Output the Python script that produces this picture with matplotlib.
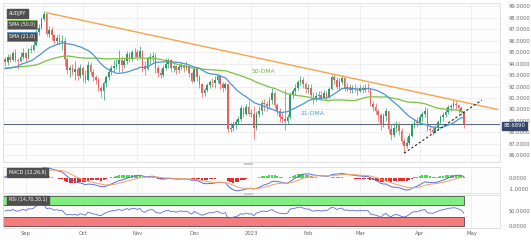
import matplotlib
matplotlib.use("Agg")
import matplotlib.pyplot as plt
import numpy as np
import pandas as pd
from matplotlib.patches import Rectangle

# AUD/JPY daily candles, weekdays 2022-08-22 .. 2023-04-26
start_date = "2022-08-22"
end_date = "2023-04-26"
axis_end = "2023-05-31"

# closes before the window (only used to warm up the SMAs / MACD / RSI)
prior_closes = [95.0, 93.7, 92.8, 93.2, 94.0, 93.3, 93.6, 93.9, 94.0, 93.8, 94.2, 94.5, 93.6, 93.2, 92.6,
                92.4, 92.7, 92.8, 92.9, 93.5, 93.4, 93.2, 93.0, 93.4, 94.1, 95.0, 95.5, 95.2, 94.2, 94.0,
                93.6, 93.9, 93.3,
                92.7, 92.0, 92.9, 93.0, 93.3, 93.6, 92.9, 93.1, 94.0, 94.6, 93.8, 93.5, 93.3, 94.2, 94.5, 94.4]

first_open = 94.4
closes = [94.1, 94.6, 94.3, 94.9, 94.3, 94.2, 94.6, 94.9,
          94.5, 95.3, 95.2, 95.6, 96.8, 97.1, 97.9, 98.3, 96.6, 96.9, 96.5, 96.0, 96.2, 95.9, 96.0, 94.4,
          93.4, 93.6, 93.3, 93.5, 92.9, 93.6,
          93.0, 92.6, 93.9, 93.3, 92.8, 92.6, 91.9, 91.6, 92.3, 92.8, 93.3, 93.6, 93.8, 94.0, 94.3, 93.9,
          94.2, 94.8, 94.4, 95.0, 95.0,
          94.6, 95.1, 93.8, 93.5, 94.4, 94.6, 94.7, 93.6, 93.2, 93.0, 93.6, 94.0, 94.3, 93.6, 93.8, 93.4,
          93.7, 93.9, 93.6, 93.8, 93.2, 92.5,
          93.5, 92.8, 92.2, 91.4, 91.7, 92.1, 92.4, 92.3, 92.6, 92.9, 92.2, 91.9, 92.2, 88.3, 88.4, 88.6,
          88.9, 89.2, 90.1, 89.6, 90.2, 89.6,
          89.6, 88.4, 89.6, 89.9, 90.6, 90.5, 90.3, 90.8, 91.4, 90.4, 89.9, 89.3, 89.2, 89.0, 89.3, 91.3,
          91.6, 91.9, 92.4, 92.6, 92.2, 91.8,
          91.9, 91.3, 90.9, 91.2, 91.3, 91.0, 91.4, 91.1, 91.8, 92.8, 92.6, 92.0, 92.4, 92.7, 91.8, 92.0,
          91.7, 91.9, 91.8, 91.6,
          91.9, 91.7, 91.9, 91.8, 90.5, 90.2, 89.9, 89.5, 88.6, 89.4, 89.9, 88.3, 87.8, 88.4, 88.6, 88.1,
          87.2, 86.8, 87.1, 87.7, 88.6, 88.9, 88.8,
          89.3, 89.6, 89.9, 88.3, 88.2, 88.0, 88.4, 88.9, 89.3, 89.5, 89.8, 90.2, 90.3, 90.5, 90.4, 90.1,
          89.8, 88.689]
highs = [94.6, 94.8, 94.8, 95.1, 95.3, 94.5, 95.0, 95.4,
         95.0, 95.4, 95.6, 96.2, 97.0, 97.5, 98.1, 98.6, 98.4, 97.3, 97.2, 96.6, 96.5, 96.6, 96.5, 96.3,
         94.6, 93.9, 94.0, 94.2, 93.8, 94.0,
         93.8, 93.4, 94.2, 94.1, 93.5, 93.0, 92.8, 92.1, 92.5, 93.0, 93.5, 93.9, 94.3, 94.4, 95.2, 94.7,
         94.5, 95.1, 95.0, 95.2, 95.4,
         95.3, 95.5, 95.2, 94.2, 94.6, 94.9, 95.0, 94.9, 93.9, 93.5, 93.9, 94.5, 94.5, 94.4, 94.0, 93.9,
         94.0, 94.1, 94.0, 94.2, 94.0, 93.3,
         93.7, 93.6, 93.0, 92.3, 91.9, 92.3, 92.6, 92.7, 92.9, 93.1, 93.0, 92.4, 92.4, 92.3, 88.8, 89.0,
         89.2, 89.4, 90.4, 90.2, 90.5, 90.8,
         90.0, 90.3, 89.9, 90.3, 90.8, 90.9, 90.7, 91.1, 91.9, 91.6, 90.6, 90.1, 89.8, 91.8, 89.6, 91.5,
         91.8, 92.2, 92.6, 92.9, 92.8, 92.4,
         92.2, 92.2, 91.5, 91.5, 91.6, 91.6, 91.7, 91.6, 92.0, 93.0, 93.0, 92.8, 92.7, 92.9, 92.8, 92.3,
         92.2, 92.1, 92.2, 92.0,
         92.1, 92.1, 92.2, 92.3, 91.9, 90.7, 90.6, 90.0, 89.7, 89.7, 90.1, 89.9, 88.7, 88.8, 89.0, 88.9,
         88.4, 87.5, 87.6, 87.9, 88.8, 89.2, 89.3,
         89.6, 89.9, 90.2, 90.1, 88.6, 88.5, 88.6, 89.1, 89.5, 89.8, 90.1, 90.4, 90.5, 90.8, 90.7, 90.5,
         90.3, 89.9]
lows = [93.8, 93.9, 94.1, 94.2, 94.1, 93.5, 94.1, 94.4,
        94.1, 94.4, 94.9, 95.1, 95.5, 96.5, 97.0, 97.7, 96.4, 96.3, 96.1, 95.7, 95.7, 95.6, 95.2, 93.8,
        93.1, 92.8, 93.0, 92.6, 92.6, 92.7,
        92.4, 92.3, 92.5, 93.0, 92.5, 92.2, 91.6, 91.1, 90.8, 92.0, 92.6, 93.0, 93.3, 93.5, 93.3, 93.3,
        93.6, 94.0, 94.1, 94.2, 94.6,
        94.3, 94.4, 93.3, 93.0, 93.4, 94.0, 94.1, 93.2, 92.8, 92.7, 92.8, 93.4, 93.6, 93.3, 93.3, 93.1,
        93.2, 93.4, 93.3, 93.4, 92.8, 92.3,
        92.4, 92.5, 91.9, 91.1, 91.2, 91.5, 91.9, 92.0, 91.9, 92.3, 91.8, 91.5, 91.8, 88.0, 88.0, 88.1,
        88.3, 88.7, 89.0, 89.3, 89.5, 89.4,
        89.3, 87.4, 88.2, 89.3, 89.5, 89.9, 89.9, 90.1, 90.5, 90.1, 89.5, 88.9, 88.8, 88.2, 88.7, 89.2,
        91.0, 91.3, 91.7, 92.1, 91.9, 91.4,
        91.4, 91.0, 90.5, 90.7, 90.9, 90.8, 90.9, 90.8, 91.0, 91.7, 92.2, 91.8, 91.8, 92.2, 91.6, 91.6,
        91.4, 91.4, 91.5, 91.3,
        91.5, 91.4, 91.5, 91.5, 90.3, 89.9, 89.6, 89.0, 88.2, 88.5, 89.0, 87.9, 87.3, 87.6, 88.0, 87.8,
        87.0, 86.2, 86.6, 86.9, 87.6, 88.4, 88.5,
        88.6, 89.0, 89.3, 88.1, 87.9, 87.8, 87.9, 88.2, 88.7, 89.0, 89.3, 89.6, 89.9, 90.1, 90.0, 89.7,
        89.5, 88.4]

month_labels = ["Sep", "Oct", "Nov", "Dec", "2023", "Feb", "Mar", "Apr", "May"]
month_firsts = ["2022-09-01", "2022-10-01", "2022-11-01", "2022-12-01", "2023-01-01",
                "2023-02-01", "2023-03-01", "2023-04-01", "2023-05-01"]

# hand-drawn trend lines (date, level)
resistance_pts = [("2022-09-13", 98.45), ("2023-05-15", 90.0)]
support_pts = [("2023-03-24", 86.17), ("2023-05-05", 90.82)]

last_price_label = "88.6890"

# ---------------------------------------------------------------
dates = pd.bdate_range(start_date, end_date)
all_days = pd.bdate_range(start_date, axis_end)
def pos(d):
    return int(all_days.searchsorted(pd.Timestamp(d)))

n = len(closes)
x = np.arange(n)
c = np.array(closes)
o = np.array([first_open] + closes[:-1])  # fx: open = previous close
h = np.array(highs)
l = np.array(lows)

full = pd.Series(prior_closes + closes)
k = len(prior_closes)
sma21 = full.rolling(21).mean().values[k:]
sma50 = full.rolling(50).mean().values[k:]
ema12 = full.ewm(span=12, adjust=False).mean()
ema26 = full.ewm(span=26, adjust=False).mean()
macd = ema12 - ema26
signal = macd.ewm(span=9, adjust=False).mean()
hist = (macd - signal).values[k:]
macd = macd.values[k:]
signal = signal.values[k:]
delta = full.diff()
gain = delta.clip(lower=0).ewm(alpha=1/14, adjust=False).mean()
loss = (-delta.clip(upper=0)).ewm(alpha=1/14, adjust=False).mean()
rsi = (100 - 100 / (1 + gain / loss)).values[k:]

W, H = 531, 240
fig = plt.figure(figsize=(W / 100, H / 100), dpi=100)
fig.patch.set_facecolor("white")

def box(top, bottom):
    return [3 / W, 1 - bottom / H, 497 / W, (bottom - top) / H]

ax = fig.add_axes(box(3, 162))
ax_m = fig.add_axes(box(167, 193), sharex=ax)
ax_r = fig.add_axes(box(195, 228), sharex=ax)

month_pos = [pos(d) for d in month_firsts]
grid_c = "#e9e9e9"
tick_c = "#666666"
for a in (ax, ax_m, ax_r):
    a.set_facecolor("#fdfdfd")
    for s in a.spines.values():
        s.set_color("#dddddd")
        s.set_linewidth(0.6)
    a.yaxis.tick_right()
    a.tick_params(axis="y", length=0, pad=6, labelsize=3.7, labelcolor=tick_c)
    a.tick_params(axis="x", length=0, labelbottom=False)
    for mp in month_pos:
        a.axvline(mp, color=grid_c, lw=0.5, zorder=0)

ax.set_xlim(-0.8, 191)

# ---- main price panel
ax.set_ylim(85.4, 99.3)
levels = np.arange(86, 100)
ax.set_yticks(levels)
ax.set_yticklabels(["%.4f" % v for v in levels])
for v in levels:
    ax.axhline(v, color=grid_c, lw=0.5, zorder=0)

up = c >= o
green, red = "#2e9a6a", "#e8605d"
cols = np.where(up, green, red)
ax.vlines(x, l, h, colors=cols, lw=0.5, zorder=3)
body_low = np.minimum(o, c)
body_h = np.maximum(np.abs(c - o), 0.05)
ax.bar(x, body_h, bottom=body_low, width=0.65, color=cols, lw=0, zorder=4)

ax.plot(x, sma50, color="#7cc142", lw=0.9, zorder=5)
ax.plot(x, sma21, color="#4a98d8", lw=0.9, zorder=5)

rx = [pos(d) for d, _ in resistance_pts]
ax.plot(rx, [v for _, v in resistance_pts], color="#f5a54a", lw=1.0, zorder=6)
sx = [pos(d) for d, _ in support_pts]
ax.plot(sx, [v for _, v in support_pts], color="#222222", lw=0.8, ls=(0, (2, 2)), zorder=6)

ax.axhline(c[-1], color="#5d6b82", lw=0.8, zorder=2)
ax.text(1.008, c[-1] - 0.12, last_price_label, transform=ax.get_yaxis_transform(), fontsize=3.8,
        color="white", va="center", ha="left", zorder=10, clip_on=False,
        bbox=dict(boxstyle="square,pad=0.3", fc="#34466b", ec="#34466b"))

ax.text(pos("2023-01-02"), 93.2, "50-DMA", color="#6fbf3a", fontsize=4.3, zorder=7)
ax.text(pos("2023-01-27"), 89.55, "21-DMA", color="#4a98d8", fontsize=4.3, zorder=7)

lab = dict(fontsize=3.4, color="white", ha="left", va="center", transform=ax.transAxes, zorder=10)
ax.text(0.012, 0.935, "AUDJPY", bbox=dict(boxstyle="square,pad=0.4", fc="#4f4f4f", ec="#4f4f4f"), **lab)
ax.text(0.012, 0.865, "SMA (50,0)", bbox=dict(boxstyle="square,pad=0.4", fc="#4f4f4f", ec="#7cc142", lw=0.6), **lab)
ax.text(0.012, 0.790, "SMA (21,0)", bbox=dict(boxstyle="square,pad=0.4", fc="#4f4f4f", ec="#4a98d8", lw=0.6), **lab)

# ---- MACD panel
ax_m.set_ylim(-1.36, 1.0)
ax_m.set_yticks([0, -1])
ax_m.set_yticklabels(["0.0000", "-1.0000"])
hcols = np.where(hist >= 0, "#3ee43e", "#e52b2b")
ax_m.bar(x, hist, width=0.8, color=hcols, lw=0, zorder=3)
ax_m.plot(x, macd, color="#5b6fd6", lw=0.7, zorder=4)
ax_m.plot(x, signal, color="#f0a06a", lw=0.7, zorder=4)
ax_m.text(0.012, 0.78, "MACD (12,26,9)", bbox=dict(boxstyle="square,pad=0.4", fc="#4f4f4f", ec="#4f4f4f"),
          fontsize=3.4, color="white", ha="left", va="center", transform=ax_m.transAxes, zorder=10)

# ---- RSI panel
ax_r.set_ylim(-7, 103)
ax_r.set_yticks([50, 0])
ax_r.set_yticklabels(["50.0000", "0.0000"])
ax_r.add_patch(Rectangle((-0.8, 70), n - 1 + 0.8, 30, fc="#7ff07f", ec="#333333", lw=0.5, zorder=2))
ax_r.add_patch(Rectangle((-0.8, 0), n - 1 + 0.8, 30, fc="#f47c7c", ec="#333333", lw=0.5, zorder=2))
ax_r.plot(x, rsi, color="#5b6fd6", lw=0.6, zorder=4)
ax_r.text(0.012, 0.85, "RSI (14,70,30,1)", bbox=dict(boxstyle="square,pad=0.4", fc="#4f4f4f", ec="#4f4f4f"),
          fontsize=3.4, color="white", ha="left", va="center", transform=ax_r.transAxes, zorder=10)

ax_r.set_xticks(month_pos)
ax_r.set_xticklabels(month_labels)
ax_r.tick_params(axis="x", labelbottom=True, labelsize=3.8, labelcolor=tick_c, pad=2)

# panel resize handles
for yy in (164, 193.5):
    fig.patches.append(Rectangle((244 / W, 1 - (yy + 1) / H), 9 / W, 2 / H, transform=fig.transFigure,
                                 fc="#cccccc", ec="none"))

fig.savefig("out.png", dpi=100)
